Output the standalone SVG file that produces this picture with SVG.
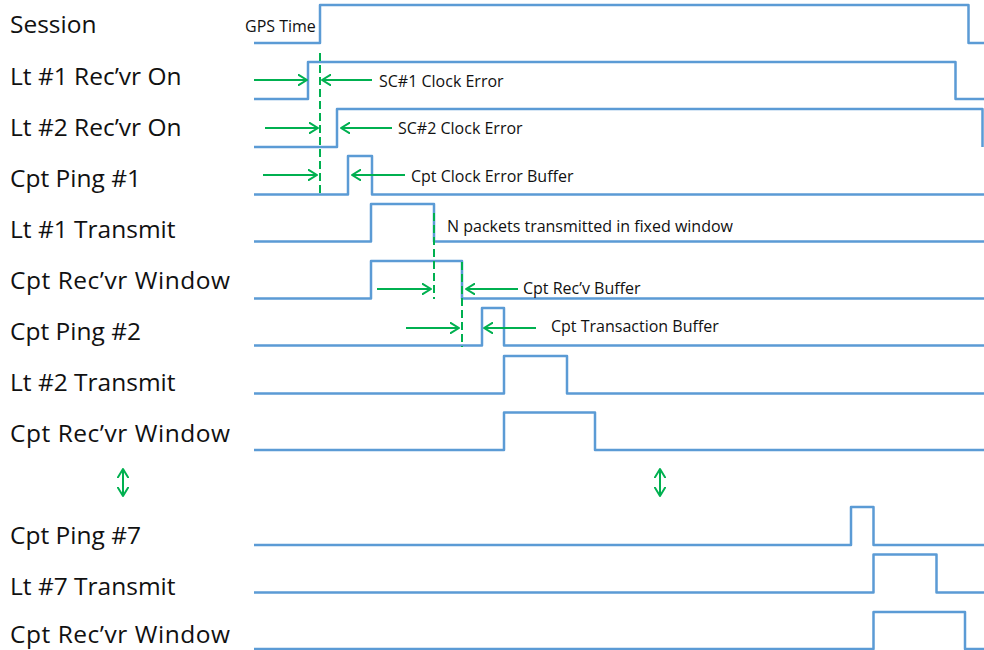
<svg xmlns="http://www.w3.org/2000/svg" width="984" height="650" viewBox="0 0 984 650">
  <style>
    .lbl { font-family: "Open Sans", "Liberation Sans", sans-serif; font-size: 24.5px; fill: #111; }
    .note { font-family: "Open Sans", "Liberation Sans", sans-serif; font-size: 16px; fill: #111; }
    .wave { fill: none; stroke: #5B9BD5; stroke-width: 2.5; stroke-linejoin: round; }
    .arr { fill: none; stroke: #00B050; stroke-width: 2; }
    .dash { fill: none; stroke: #00B050; stroke-width: 2; stroke-dasharray: 8 4; }
  </style>
  <defs>
    <marker id="ah" viewBox="0 0 10 12" refX="9" refY="6" markerWidth="10" markerHeight="12" orient="auto-start-reverse" markerUnits="userSpaceOnUse">
      <path d="M0,0.5 L9,6 L0,11.5" fill="none" stroke="#00B050" stroke-width="2" stroke-linejoin="round" stroke-linecap="round"/>
    </marker>
  </defs>
  <rect width="984" height="650" fill="#ffffff"/>

  <g id="session">
    <text class="lbl" x="10" y="33">Session</text>
    <path class="wave" d="M254,43 H320 V5 H968.5 V43 H984"/>
    <text class="note" x="245" y="32">GPS Time</text>
  </g>
  <g id="lt1-recvr-on">
    <text class="lbl" x="10" y="84.5">Lt #1 Rec’vr On</text>
    <path class="wave" d="M254,99 H308 V62 H955.5 V99 H984"/>
    <text class="note" x="379" y="87">SC#1 Clock Error</text>
  </g>
  <g id="lt2-recvr-on">
    <text class="lbl" x="10" y="135.5">Lt #2 Rec’vr On</text>
    <path class="wave" d="M254,147 H337 V109 H982.5 V147"/>
    <text class="note" x="398" y="133.5">SC#2 Clock Error</text>
  </g>
  <g id="cpt-ping-1">
    <text class="lbl" x="10" y="186.5">Cpt Ping #1</text>
    <path class="wave" d="M254,194.5 H348 V156 H372 V194.5 H984"/>
    <text class="note" x="411" y="182">Cpt Clock Error Buffer</text>
  </g>
  <g id="lt1-transmit">
    <text class="lbl" x="10" y="237.5">Lt #1 Transmit</text>
    <path class="wave" d="M254,241.5 H371 V204 H434 V241.5 H984"/>
    <text class="note" x="447" y="231.5">N packets transmitted in fixed window</text>
  </g>
  <g id="cpt-recvr-window-1">
    <text class="lbl" x="10" y="288.5" textLength="220" lengthAdjust="spacing">Cpt Rec’vr Window</text>
    <path class="wave" d="M254,298.5 H371 V261 H462 V298.5 H984"/>
    <text class="note" x="523" y="294">Cpt Rec’v Buffer</text>
  </g>
  <g id="cpt-ping-2">
    <text class="lbl" x="10" y="339.5">Cpt Ping #2</text>
    <path class="wave" d="M254,345.5 H482 V308 H504 V345.5 H984"/>
    <text class="note" x="551" y="332">Cpt Transaction Buffer</text>
  </g>
  <g id="lt2-transmit">
    <text class="lbl" x="10" y="390.5">Lt #2 Transmit</text>
    <path class="wave" d="M254,393.5 H504 V356 H567 V393.5 H984"/>
  </g>
  <g id="cpt-recvr-window-2">
    <text class="lbl" x="10" y="441.5" textLength="220" lengthAdjust="spacing">Cpt Rec’vr Window</text>
    <path class="wave" d="M254,450 H504 V412.5 H595 V450 H984"/>
  </g>
  <g id="cpt-ping-7">
    <text class="lbl" x="10" y="543.5">Cpt Ping #7</text>
    <path class="wave" d="M254,545 H851 V507 H873.5 V545 H984"/>
  </g>
  <g id="lt7-transmit">
    <text class="lbl" x="10" y="594.5">Lt #7 Transmit</text>
    <path class="wave" d="M254,592.5 H873.5 V554.5 H936.5 V592.5 H984"/>
  </g>
  <g id="cpt-recvr-window-7">
    <text class="lbl" x="10" y="643" textLength="220" lengthAdjust="spacing">Cpt Rec’vr Window</text>
    <path class="wave" d="M254,649 H873.5 V612 H965 V649 H984"/>
  </g>

  <g id="connectors">
    <line class="dash" x1="320" y1="53" x2="320" y2="195"/>
    <line class="dash" x1="434" y1="213" x2="434" y2="299"/>
    <line class="dash" x1="462" y1="262" x2="462" y2="347"/>

    <line class="arr" x1="254" y1="80" x2="307" y2="80" marker-end="url(#ah)"/>
    <line class="arr" x1="372" y1="80" x2="322" y2="80" marker-end="url(#ah)"/>
    <line class="arr" x1="265" y1="128" x2="318" y2="128" marker-end="url(#ah)"/>
    <line class="arr" x1="392" y1="128" x2="341" y2="128" marker-end="url(#ah)"/>
    <line class="arr" x1="263" y1="175" x2="317" y2="175" marker-end="url(#ah)"/>
    <line class="arr" x1="405" y1="175" x2="352" y2="175" marker-end="url(#ah)"/>
    <line class="arr" x1="377" y1="289" x2="431" y2="289" marker-end="url(#ah)"/>
    <line class="arr" x1="518" y1="289" x2="466" y2="289" marker-end="url(#ah)"/>
    <line class="arr" x1="406" y1="328" x2="459" y2="328" marker-end="url(#ah)"/>
    <line class="arr" x1="536" y1="328" x2="484" y2="328" marker-end="url(#ah)"/>

    <line class="arr" x1="123" y1="469" x2="123" y2="496" marker-start="url(#ah)" marker-end="url(#ah)"/>
    <line class="arr" x1="660" y1="469" x2="660" y2="496" marker-start="url(#ah)" marker-end="url(#ah)"/>
  </g>
</svg>
